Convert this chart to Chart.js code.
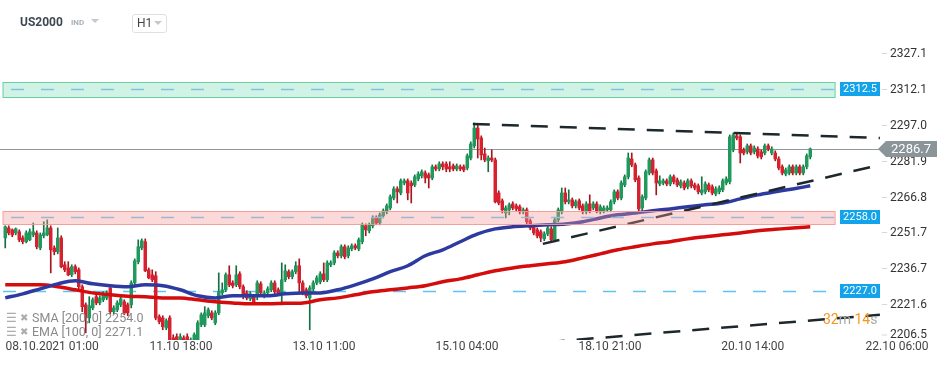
<!DOCTYPE html>
<html>
<head>
<meta charset="utf-8">
<title>US2000 H1</title>
<script src="https://cdn.jsdelivr.net/npm/chart.js@4.4.0/dist/chart.umd.min.js"></script>
<style>
  html, body { margin: 0; padding: 0; background: #fff; }
  #wrap { position: relative; width: 950px; height: 365px; overflow: hidden; font-family: Roboto, "Liberation Sans", sans-serif; }
  #chart { position: absolute; left: 0; top: 0; }
  .abs { position: absolute; white-space: nowrap; }
  #sym { left: 20px; top: 15px; font-size: 12px; font-weight: bold; color: #3d4852; line-height: 14px; }
  #ind { left: 71px; top: 18px; font-size: 8px; font-weight: bold; color: #a9b1b9; line-height: 10px; }
  .tri { width: 0; height: 0; border-left: 4px solid transparent; border-right: 4px solid transparent; border-top: 4px solid #c3c9cf; }
  #tri1 { left: 91px; top: 19px; }
  #tf { left: 132px; top: 14px; width: 33px; height: 17px; border: 1px solid #dde1e5; border-radius: 3px; }
  #tfl { left: 137px; top: 16px; font-size: 12px; color: #444; line-height: 14px; }
  #tri2 { left: 154px; top: 21px; }
  .leg { font-size: 12.5px; color: #8a8a8a; line-height: 14px; }
  .ic1 { font-size: 12px; color: #adadad; line-height: 14px; }
  .ic2 { font-size: 10px; color: #adadad; line-height: 14px; }
  #timer { left: 823px; top: 311px; font-size: 14px; line-height: 16px; color: #a9a9a9; }
  #timer b { font-weight: normal; color: #f5961e; }
</style>
</head>
<body>
<div id="wrap">
  <canvas id="chart" width="950" height="365"></canvas>
  <div class="abs" id="sym">US2000</div>
  <div class="abs" id="ind">IND</div>
  <div class="abs tri" id="tri1"></div>
  <div class="abs" id="tf"></div>
  <div class="abs" id="tfl">H1</div>
  <div class="abs tri" id="tri2"></div>
  <div class="abs ic1" style="left:6px; top:311px;">&#9776;</div>
  <div class="abs ic2" style="left:20px; top:311px;">&#10006;</div>
  <div class="abs leg" style="left:32px; top:311px;">SMA [200, 0] 2254.0</div>
  <div class="abs ic1" style="left:6px; top:325px;">&#9776;</div>
  <div class="abs ic2" style="left:20px; top:325px;">&#10006;</div>
  <div class="abs leg" style="left:32px; top:325px;">EMA [100, 0] 2271.1</div>
  <div class="abs" id="timer"><b>32</b>m <b>14</b>s</div>
</div>
<script>
// hourly candles, 08.10 -> 21.10 (one entry per bar)
const opens = [
  2249.4, 2253.6, 2252.8, 2251.5, 2252.0, 2249.4, 2247.8, 2248.6, 2250.7, 2251.5,
  2245.2, 2250.3, 2250.7, 2253.6, 2245.2, 2243.6, 2249.4, 2238.1, 2236.8, 2233.9,
  2237.3, 2236.0, 2228.9, 2221.3, 2215.8, 2220.0, 2224.7, 2222.1, 2223.4, 2224.2,
  2228.4, 2218.4, 2219.2, 2221.3, 2222.6, 2221.3, 2221.3, 2230.5, 2239.4, 2245.2,
  2247.8, 2236.0, 2233.9, 2233.5, 2216.3, 2215.8, 2211.6, 2215.8, 2207.4, 2207.9,
  2203.2, 2207.4, 2207.9, 2203.2, 2204.5, 2206.6, 2212.9, 2212.9, 2216.7, 2217.9,
  2213.7, 2217.9, 2226.3, 2227.6, 2233.9, 2230.5, 2229.7, 2234.3, 2228.9, 2226.3,
  2223.8, 2224.7, 2224.7, 2230.1, 2225.1, 2226.3, 2227.6, 2230.5, 2227.6, 2226.3,
  2231.8, 2235.2, 2233.1, 2235.2, 2237.7, 2230.5, 2227.6, 2224.2, 2228.0, 2230.5,
  2231.0, 2234.3, 2231.8, 2238.1, 2238.9, 2243.1, 2241.9, 2245.7, 2241.9, 2244.8,
  2246.1, 2244.8, 2247.8, 2254.5, 2252.4, 2254.5, 2257.8, 2255.7, 2258.7, 2260.4,
  2262.0, 2266.2, 2270.0, 2268.3, 2272.5, 2273.4, 2272.5, 2271.7, 2274.2, 2275.5,
  2276.7, 2275.9, 2274.6, 2279.3, 2278.4, 2280.5, 2280.5, 2279.3, 2279.7, 2278.4,
  2279.3, 2279.3, 2278.8, 2283.0, 2288.1, 2295.6, 2291.4, 2284.7, 2281.8, 2283.0,
  2282.2, 2268.3, 2265.0, 2259.9, 2261.2, 2263.7, 2262.9, 2262.5, 2260.4, 2261.2,
  2256.6, 2254.1, 2252.8, 2252.0, 2249.0, 2251.1, 2253.2, 2248.6, 2257.0, 2260.4,
  2268.3, 2264.6, 2265.4, 2262.9, 2265.0, 2262.9, 2260.4, 2263.7, 2262.0, 2263.7,
  2260.4, 2260.8, 2261.2, 2261.2, 2264.6, 2268.8, 2266.2, 2271.7, 2275.1, 2282.6,
  2280.1, 2274.6, 2262.0, 2266.2, 2276.7, 2282.2, 2277.6, 2272.1, 2272.5, 2273.4,
  2272.1, 2275.1, 2273.8, 2271.3, 2272.5, 2270.9, 2273.4, 2271.7, 2271.3, 2268.3,
  2268.8, 2271.7, 2270.9, 2267.9, 2268.8, 2269.6, 2272.5, 2273.0, 2286.4, 2292.3,
  2291.9, 2286.4, 2285.6, 2288.1, 2285.6, 2286.8, 2285.6, 2285.1, 2288.1, 2285.1,
  2285.1, 2282.6, 2279.3, 2276.3, 2276.7, 2279.3, 2276.7, 2279.3, 2276.7, 2279.3,
  2283.5
];
const highs = [
  2254.5, 2254.5, 2253.2, 2253.6, 2252.8, 2250.3, 2252.4, 2253.2, 2255.7, 2252.4,
  2251.5, 2256.2, 2257.0, 2254.5, 2246.1, 2253.6, 2250.3, 2239.4, 2239.4, 2238.1,
  2238.1, 2236.8, 2229.7, 2222.1, 2224.7, 2224.2, 2226.3, 2225.1, 2226.8, 2227.2,
  2229.3, 2220.9, 2223.0, 2225.1, 2223.4, 2222.1, 2231.4, 2240.6, 2248.6, 2249.0,
  2249.0, 2236.8, 2236.0, 2235.2, 2217.1, 2216.7, 2215.4, 2216.7, 2208.7, 2209.1,
  2209.1, 2208.3, 2209.1, 2207.4, 2209.5, 2214.6, 2217.9, 2220.5, 2220.0, 2218.8,
  2218.8, 2234.7, 2230.5, 2234.7, 2237.7, 2231.4, 2237.7, 2235.2, 2229.7, 2227.2,
  2226.8, 2225.5, 2231.4, 2231.0, 2227.2, 2228.9, 2231.4, 2231.4, 2228.4, 2238.9,
  2238.1, 2236.0, 2236.0, 2239.4, 2240.6, 2231.4, 2228.4, 2229.3, 2231.4, 2233.5,
  2235.2, 2238.9, 2239.8, 2239.8, 2244.0, 2244.0, 2246.5, 2246.5, 2246.1, 2246.9,
  2246.9, 2249.4, 2255.7, 2255.3, 2255.7, 2258.7, 2258.7, 2259.9, 2261.6, 2263.7,
  2267.5, 2270.9, 2270.9, 2274.2, 2274.2, 2274.2, 2273.4, 2275.9, 2277.2, 2278.0,
  2277.6, 2276.7, 2280.1, 2280.1, 2281.4, 2281.4, 2281.4, 2281.4, 2280.5, 2280.5,
  2280.1, 2280.1, 2284.7, 2289.8, 2297.7, 2297.3, 2292.3, 2287.2, 2283.9, 2286.4,
  2283.0, 2269.2, 2265.8, 2262.9, 2264.1, 2264.6, 2263.7, 2263.3, 2262.0, 2262.0,
  2257.4, 2254.9, 2253.6, 2252.8, 2252.0, 2254.5, 2254.1, 2257.8, 2262.0, 2270.4,
  2270.4, 2269.6, 2266.2, 2265.4, 2265.8, 2263.7, 2264.6, 2267.5, 2264.6, 2264.6,
  2263.3, 2262.9, 2262.9, 2265.4, 2269.6, 2269.6, 2273.4, 2275.9, 2285.1, 2285.1,
  2280.9, 2275.5, 2267.5, 2278.0, 2283.0, 2283.0, 2278.4, 2275.5, 2274.2, 2274.2,
  2275.9, 2275.9, 2274.6, 2273.8, 2273.4, 2274.2, 2274.2, 2272.5, 2272.1, 2275.1,
  2273.0, 2272.5, 2271.7, 2270.9, 2271.3, 2274.2, 2275.1, 2292.7, 2293.5, 2293.1,
  2292.7, 2287.2, 2288.9, 2288.9, 2288.1, 2287.7, 2286.4, 2288.9, 2288.9, 2287.7,
  2286.0, 2283.5, 2280.1, 2278.8, 2280.1, 2280.1, 2280.1, 2280.1, 2280.1, 2284.7,
  2287.2
];
const lows = [
  2245.2, 2250.7, 2249.9, 2250.7, 2247.8, 2246.9, 2247.3, 2248.2, 2249.9, 2244.8,
  2244.4, 2249.4, 2250.3, 2234.7, 2242.3, 2242.7, 2236.8, 2235.2, 2233.5, 2233.1,
  2234.3, 2227.6, 2218.4, 2209.5, 2213.7, 2219.2, 2221.3, 2221.3, 2222.6, 2223.4,
  2217.5, 2217.5, 2218.4, 2220.5, 2217.1, 2216.7, 2220.0, 2229.7, 2238.5, 2244.4,
  2235.2, 2232.2, 2231.0, 2215.0, 2213.3, 2210.8, 2210.8, 2205.8, 2203.2, 2201.6,
  2202.4, 2200.3, 2202.0, 2202.4, 2203.7, 2204.5, 2212.1, 2212.1, 2215.8, 2215.0,
  2212.9, 2217.1, 2225.5, 2226.8, 2228.9, 2228.4, 2228.9, 2228.0, 2223.8, 2223.4,
  2223.0, 2221.7, 2223.4, 2225.5, 2224.2, 2225.5, 2226.8, 2225.9, 2225.1, 2221.3,
  2231.0, 2232.2, 2232.2, 2234.3, 2226.3, 2225.5, 2224.2, 2210.8, 2227.2, 2229.7,
  2230.1, 2231.0, 2231.0, 2237.3, 2238.1, 2241.0, 2241.0, 2240.6, 2241.0, 2244.0,
  2244.4, 2244.0, 2246.9, 2250.3, 2251.5, 2253.6, 2254.9, 2254.9, 2257.8, 2259.5,
  2261.2, 2265.4, 2264.1, 2267.5, 2271.7, 2265.4, 2264.1, 2270.9, 2273.4, 2274.6,
  2272.5, 2270.4, 2273.8, 2277.6, 2277.6, 2278.0, 2277.2, 2277.2, 2277.6, 2277.6,
  2277.6, 2277.2, 2278.0, 2282.2, 2287.2, 2283.0, 2282.2, 2281.4, 2277.2, 2281.4,
  2264.1, 2263.3, 2259.9, 2257.8, 2259.1, 2261.2, 2260.8, 2259.5, 2259.5, 2255.3,
  2252.8, 2250.7, 2249.4, 2247.8, 2248.2, 2250.3, 2247.8, 2247.8, 2256.2, 2259.5,
  2263.7, 2263.7, 2262.0, 2262.0, 2261.2, 2259.5, 2259.5, 2259.9, 2261.2, 2259.9,
  2259.5, 2259.9, 2260.4, 2260.4, 2263.7, 2265.4, 2265.4, 2270.9, 2274.2, 2279.3,
  2273.0, 2260.8, 2260.8, 2265.4, 2275.9, 2275.9, 2267.5, 2271.3, 2271.7, 2271.3,
  2271.3, 2272.1, 2270.9, 2270.4, 2269.6, 2270.0, 2270.4, 2269.6, 2267.9, 2267.5,
  2267.9, 2268.8, 2267.5, 2267.1, 2267.9, 2268.8, 2271.7, 2272.1, 2285.6, 2290.6,
  2280.9, 2284.3, 2284.7, 2284.3, 2284.7, 2283.0, 2282.6, 2284.3, 2286.0, 2284.3,
  2281.8, 2278.0, 2275.9, 2275.5, 2275.9, 2275.9, 2275.9, 2275.9, 2275.9, 2278.4,
  2282.6
];
const closes = [
  2254.1, 2251.5, 2250.7, 2253.2, 2248.6, 2247.8, 2251.5, 2252.0, 2252.0, 2245.7,
  2250.7, 2251.5, 2253.6, 2244.4, 2243.6, 2249.4, 2237.3, 2236.0, 2233.9, 2237.3,
  2235.2, 2228.9, 2220.5, 2215.8, 2220.9, 2223.4, 2222.1, 2224.2, 2225.5, 2226.3,
  2218.4, 2220.0, 2222.1, 2223.8, 2217.9, 2217.9, 2230.5, 2239.8, 2245.7, 2248.2,
  2235.6, 2232.6, 2231.8, 2215.8, 2214.2, 2212.1, 2214.6, 2206.6, 2204.1, 2202.4,
  2207.9, 2201.6, 2202.8, 2206.6, 2208.7, 2213.7, 2217.1, 2217.9, 2219.2, 2215.8,
  2217.9, 2226.8, 2227.6, 2233.9, 2229.7, 2229.3, 2233.9, 2228.9, 2224.7, 2224.2,
  2225.9, 2222.6, 2230.5, 2226.3, 2226.3, 2228.0, 2230.5, 2226.8, 2225.9, 2231.8,
  2235.6, 2233.1, 2235.2, 2237.7, 2230.5, 2226.3, 2225.1, 2228.4, 2230.5, 2232.6,
  2234.3, 2231.8, 2238.9, 2238.9, 2243.1, 2241.9, 2245.7, 2241.5, 2245.2, 2246.1,
  2245.2, 2248.6, 2254.9, 2252.8, 2254.9, 2257.8, 2255.7, 2259.1, 2260.8, 2262.9,
  2266.7, 2270.0, 2268.8, 2273.4, 2273.4, 2268.3, 2271.3, 2275.1, 2276.3, 2277.2,
  2274.6, 2274.6, 2279.3, 2278.4, 2280.5, 2279.3, 2278.4, 2278.4, 2278.4, 2279.7,
  2278.4, 2278.0, 2283.9, 2288.9, 2295.6, 2291.0, 2284.3, 2282.2, 2283.0, 2282.2,
  2264.6, 2264.1, 2261.2, 2262.0, 2263.3, 2262.0, 2261.6, 2260.4, 2261.2, 2256.2,
  2253.6, 2251.5, 2250.3, 2249.4, 2251.1, 2253.6, 2248.6, 2257.0, 2261.2, 2268.3,
  2264.6, 2265.4, 2262.9, 2264.6, 2262.0, 2260.4, 2263.7, 2260.8, 2263.7, 2260.8,
  2262.5, 2262.0, 2262.0, 2264.6, 2268.8, 2266.2, 2272.5, 2275.1, 2283.0, 2280.1,
  2273.8, 2261.6, 2266.7, 2277.2, 2282.2, 2276.7, 2272.5, 2273.4, 2273.4, 2272.1,
  2275.1, 2273.0, 2271.7, 2273.0, 2270.4, 2273.4, 2271.3, 2270.4, 2268.8, 2269.6,
  2272.1, 2269.6, 2268.3, 2270.0, 2270.4, 2273.4, 2274.2, 2291.9, 2292.7, 2291.4,
  2285.1, 2285.1, 2288.1, 2285.1, 2287.2, 2283.9, 2283.5, 2288.1, 2286.8, 2286.8,
  2282.6, 2278.8, 2276.7, 2278.0, 2279.3, 2276.7, 2279.3, 2276.7, 2279.3, 2283.9,
  2286.8
];

// indicators, one value every maStep bars
const maStep = 5;
const ema100 = [
  2224.2, 2225.9, 2228.0, 2230.1, 2231.4, 2230.1, 2229.3, 2228.9, 2229.7, 2229.3,
  2227.6, 2225.1, 2224.2, 2225.1, 2225.1, 2225.1, 2225.9, 2226.3, 2226.3, 2227.6,
  2229.7, 2232.2, 2235.2, 2237.7, 2241.9, 2244.4, 2247.8, 2251.1, 2253.2, 2254.1,
  2254.5, 2254.9, 2255.3, 2256.2, 2257.8, 2259.1, 2259.9, 2260.8, 2261.6, 2262.5,
  2263.3, 2264.1, 2265.8, 2267.5, 2268.8, 2270.0, 2271.3
];
const sma200 = [
  2229.7, 2229.7, 2229.7, 2228.9, 2227.6, 2226.3, 2225.5, 2224.9, 2224.7, 2224.2,
  2224.2, 2223.4, 2222.6, 2222.1, 2221.7, 2221.7, 2221.9, 2222.1, 2223.4, 2224.2,
  2225.5, 2226.8, 2227.6, 2228.4, 2229.3, 2231.0, 2232.2, 2233.9, 2235.6, 2236.8,
  2237.7, 2238.5, 2239.4, 2241.0, 2242.7, 2244.4, 2245.7, 2246.9, 2247.8, 2249.0,
  2249.9, 2250.7, 2251.5, 2252.4, 2253.0, 2253.6, 2254.1
];

// drawn trend lines: [bar index, price]
const trendTop = [[133.6, 2297.3], [249.9, 2291.4]];
const trendMid = [[153.6, 2246.9], [249.9, 2280.1]];
const trendLow = [[155.0, 2205.6], [249.9, 2217.1]];

// levels
const zoneLevels = [2312.5, 2258.0];
const lineLevel = 2227.0;
const lastPrice = 2286.7;

const yTicks = [2327.1, 2312.1, 2297.0, 2281.9, 2266.8, 2251.7, 2236.7, 2221.6, 2206.5];
const xTickIdx = [13.4, 50.2, 91.1, 131.9, 172.8, 213.6, 254.8];
const xTickLabels = ['08.10.2021 01:00', '11.10 18:00', '13.10 11:00', '15.10 04:00', '18.10 21:00', '20.10 14:00', '22.10 06:00'];

const UP = '#1f9a5c', DOWN = '#d8212f';
const UP_WICK = '#137042', DOWN_WICK = '#a5161f';
const ZONE_HALF = [3.0, 2.9];
const ZONE_SHIFT = [-0.7, 0];   // green zone sits a bit under its tag value
const ZONE_END = 237.1;   // bar index where the zones stop
const LINE_END = 249.9;

const isUp = closes.map((c, i) => c >= opens[i]);

const bodies = opens.map((o, i) => ({ x: i, y: [o, closes[i]] }));
const wicks = lows.map((l, i) => ({ x: i, y: [l, highs[i]] }));
const toPts = arr => arr.map(p => ({ x: p[0], y: p[1] }));

const levelsPlugin = {
  id: 'levels',
  beforeDatasetsDraw(chart) {
    const { ctx, scales: { x, y } } = chart;
    ctx.save();
    // last price line
    let py = Math.round(y.getPixelForValue(lastPrice)) + 0.5;
    ctx.strokeStyle = '#8e989d';
    ctx.lineWidth = 1;
    ctx.beginPath();
    ctx.moveTo(x.getPixelForValue(-1.5), py);
    ctx.lineTo(x.getPixelForValue(LINE_END), py);
    ctx.stroke();
    // 2227 dashed level
    py = Math.round(y.getPixelForValue(lineLevel)) + 0.5;
    ctx.strokeStyle = '#5ec3f2';
    ctx.lineWidth = 1.5;
    ctx.setLineDash([13, 17]);
    ctx.beginPath();
    ctx.moveTo(x.getPixelForValue(-1.5) + 3, py);
    ctx.lineTo(x.getPixelForValue(ZONE_END), py);
    ctx.stroke();
    ctx.restore();
  },
  afterDatasetsDraw(chart) {
    const { ctx, scales: { x, y } } = chart;
    const x0 = x.getPixelForValue(-1.5) + 3;
    const x1 = x.getPixelForValue(ZONE_END);
    ctx.save();
    zoneLevels.forEach((lvl, k) => {
      const c = lvl + ZONE_SHIFT[k];
      const top = Math.round(y.getPixelForValue(c + ZONE_HALF[k])) + 0.5;
      const bot = Math.round(y.getPixelForValue(c - ZONE_HALF[k])) + 0.5;
      ctx.fillStyle = k === 0 ? 'rgba(120,222,182,0.35)' : 'rgba(248,150,150,0.36)';
      ctx.fillRect(x0, top, x1 - x0, bot - top);
      ctx.strokeStyle = k === 0 ? 'rgba(80,200,150,0.85)' : 'rgba(244,150,150,0.9)';
      ctx.lineWidth = 1;
      ctx.strokeRect(x0, top, x1 - x0, bot - top);
      const mid = Math.round(y.getPixelForValue(c)) + 0.5;
      ctx.strokeStyle = k === 0 ? '#7ec3e6' : '#9bb7d6';
      ctx.lineWidth = 1.5;
      ctx.setLineDash([13, 17]);
      ctx.beginPath();
      ctx.moveTo(x0 + 8, mid);
      ctx.lineTo(x1, mid);
      ctx.stroke();
      ctx.setLineDash([]);
    });

    // y axis ticks (right side)
    ctx.font = '12px Roboto, sans-serif';
    ctx.textBaseline = 'middle';
    ctx.textAlign = 'left';
    yTicks.forEach((v, k) => {
      let py = Math.round(y.getPixelForValue(v)) + 0.5;
      if (k === yTicks.length - 1) py = Math.min(py, 335);
      ctx.strokeStyle = '#d5d8da';
      ctx.lineWidth = 1;
      ctx.beginPath();
      ctx.moveTo(882, py);
      ctx.lineTo(887, py);
      ctx.stroke();
      ctx.fillStyle = '#333';
      ctx.fillText(v.toFixed(1), 890, py);
    });

    // level tags
    ctx.font = '11px Roboto, sans-serif';
    ctx.textAlign = 'center';
    [zoneLevels[0] + ZONE_SHIFT[0], zoneLevels[1], lineLevel].forEach((pv, k) => {
      const py = Math.round(y.getPixelForValue(pv));
      const v = [zoneLevels[0], zoneLevels[1], lineLevel][k];
      ctx.fillStyle = '#12a3ea';
      ctx.fillRect(840, py - 7, 40, 14);
      ctx.fillStyle = '#fff';
      ctx.fillText(v.toFixed(1), 860, py + 0.5);
    });

    // last price tag
    const lp = Math.round(y.getPixelForValue(lastPrice));
    ctx.fillStyle = '#8a9499';
    ctx.beginPath();
    ctx.moveTo(878, lp);
    ctx.lineTo(886, lp - 8);
    ctx.lineTo(937, lp - 8);
    ctx.lineTo(937, lp + 8);
    ctx.lineTo(886, lp + 8);
    ctx.closePath();
    ctx.fill();
    ctx.fillStyle = '#fff';
    ctx.font = '13px Roboto, sans-serif';
    ctx.fillText(lastPrice.toFixed(1), 911, lp + 0.5);
    ctx.restore();
  }
};

const trendStyle = {
  type: 'line',
  borderColor: '#1d282d',
  borderWidth: 2.5,
  borderDash: [17, 12],
  pointRadius: 0,
  fill: false,
  order: 0
};

new Chart(document.getElementById('chart'), {
  type: 'bar',
  data: {
    datasets: [
      Object.assign({ data: toPts(trendTop) }, trendStyle),
      Object.assign({ data: toPts(trendMid) }, trendStyle),
      Object.assign({ data: toPts(trendLow) }, trendStyle),
      {
        type: 'line',
        data: ema100.map((v, k) => ({ x: k * maStep, y: v })),
        borderColor: '#2d3a9f',
        borderWidth: 3.5,
        pointRadius: 0,
        cubicInterpolationMode: 'monotone',
        order: 1
      },
      {
        type: 'line',
        data: sma200.map((v, k) => ({ x: k * maStep, y: v })),
        borderColor: '#d40c0c',
        borderWidth: 3.5,
        pointRadius: 0,
        cubicInterpolationMode: 'monotone',
        order: 1
      },
      {
        data: bodies,
        backgroundColor: isUp.map(u => u ? UP : DOWN),
        barThickness: 2.8,
        grouped: false,
        borderWidth: 0,
        order: 2
      },
      {
        data: wicks,
        backgroundColor: isUp.map(u => u ? UP_WICK : DOWN_WICK),
        barThickness: 1,
        grouped: false,
        borderWidth: 0,
        order: 3
      }
    ]
  },
  options: {
    responsive: false,
    devicePixelRatio: 1,
    animation: false,
    events: [],
    layout: { padding: { left: 0, right: 0, top: 0, bottom: 10.6 } },
    plugins: { legend: { display: false }, tooltip: { enabled: false } },
    scales: {
      x: {
        type: 'linear',
        min: -1.5,
        max: -1.5 + 950 / 3.5,
        offset: false,
        grid: { display: false, drawTicks: false },
        border: { display: false },
        afterBuildTicks: scale => { scale.ticks = xTickIdx.map(v => ({ value: v })); },
        ticks: {
          autoSkip: false,
          maxRotation: 0,
          padding: 0,
          color: '#444',
          font: { family: 'Roboto', size: 12 },
          callback: (v, i) => xTickLabels[i]
        }
      },
      y: {
        display: false,
        min: 2206.5,
        max: 2349.4
      }
    }
  },
  plugins: [levelsPlugin]
});
</script>
</body>
</html>
